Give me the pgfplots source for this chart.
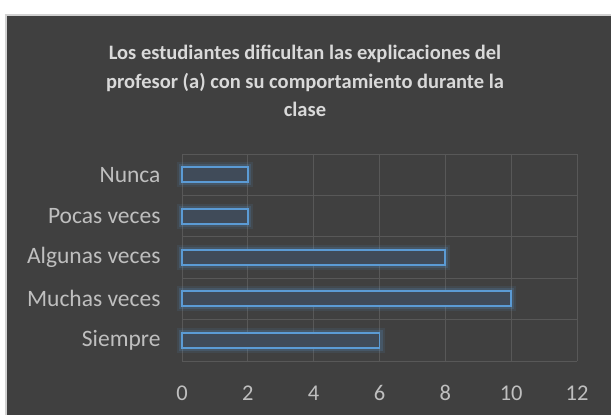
\documentclass[border=0pt]{standalone}
\usepackage{pgfplots}
\pgfplotsset{compat=1.18}
\usepackage{fontspec}
\setmainfont[Numbers=Lining]{Carlito}
\definecolor{bg}{RGB}{64,64,64}
\definecolor{gridc}{RGB}{88,88,88}
\definecolor{barline}{RGB}{91,155,213}
\definecolor{barfill}{RGB}{64,75,89}
\definecolor{txt}{RGB}{191,191,191}
\definecolor{ttl}{RGB}{217,217,217}
\begin{document}
\begin{tikzpicture}
\fill[white] (0pt,0pt) rectangle (611pt,415pt);
\fill[gray!35] (5pt,0pt) rectangle (611pt,401pt);
\fill[bg] (7pt,0pt) rectangle (611pt,399pt);
\node[align=center, font=\fontsize{20.5}{28.5}\selectfont\bfseries, text=ttl] at (305pt,334pt) {Los estudiantes dificultan las explicaciones del\\profesor (a) con su comportamiento durante la\\clase};
\begin{axis}[at={(182pt,54pt)}, anchor=south west, scale only axis,
  width=395pt, height=207pt,
  xbar, bar width=15pt, bar shift=0pt,
  xmin=0, xmax=12, ymin=-0.5, ymax=4.5,
  xtick={0,2,...,12}, ytick={0,1,2,3,4},
  yticklabels={Siempre, Muchas veces, Algunas veces, Pocas veces, Nunca},
  minor ytick={-0.5,0.5,1.5,2.5,3.5,4.5},
  xmajorgrids, yminorgrids,
  grid style={gridc, line width=0.8pt},
  minor grid style={gridc, line width=0.8pt},
  axis line style={draw=none},
  major tick length=0pt, minor tick length=0pt,
  tick label style={font=\fontsize{23.5}{26}\selectfont, text=txt},
  xticklabel style={anchor=north, yshift=-21pt, font=\fontsize{22.5}{26}\selectfont, text height=15pt, text depth=0pt},
  yticklabel style={anchor=east, xshift=-18pt},
  /pgf/number format/assume math mode=true,
  clip=false,
]
\addplot[draw=barline, draw opacity=0.10, line width=10pt, fill=none, bar shift=0pt] coordinates {(6,0) (10,1) (8,2) (2,3) (2,4)};
\addplot[draw=barline, draw opacity=0.18, line width=6pt, fill=none, bar shift=0pt] coordinates {(6,0) (10,1) (8,2) (2,3) (2,4)};
\addplot[draw=barline, line width=1.8pt, fill=barfill, bar shift=0pt] coordinates {(6,0) (10,1) (8,2) (2,3) (2,4)};
\end{axis}
\end{tikzpicture}
\end{document}
